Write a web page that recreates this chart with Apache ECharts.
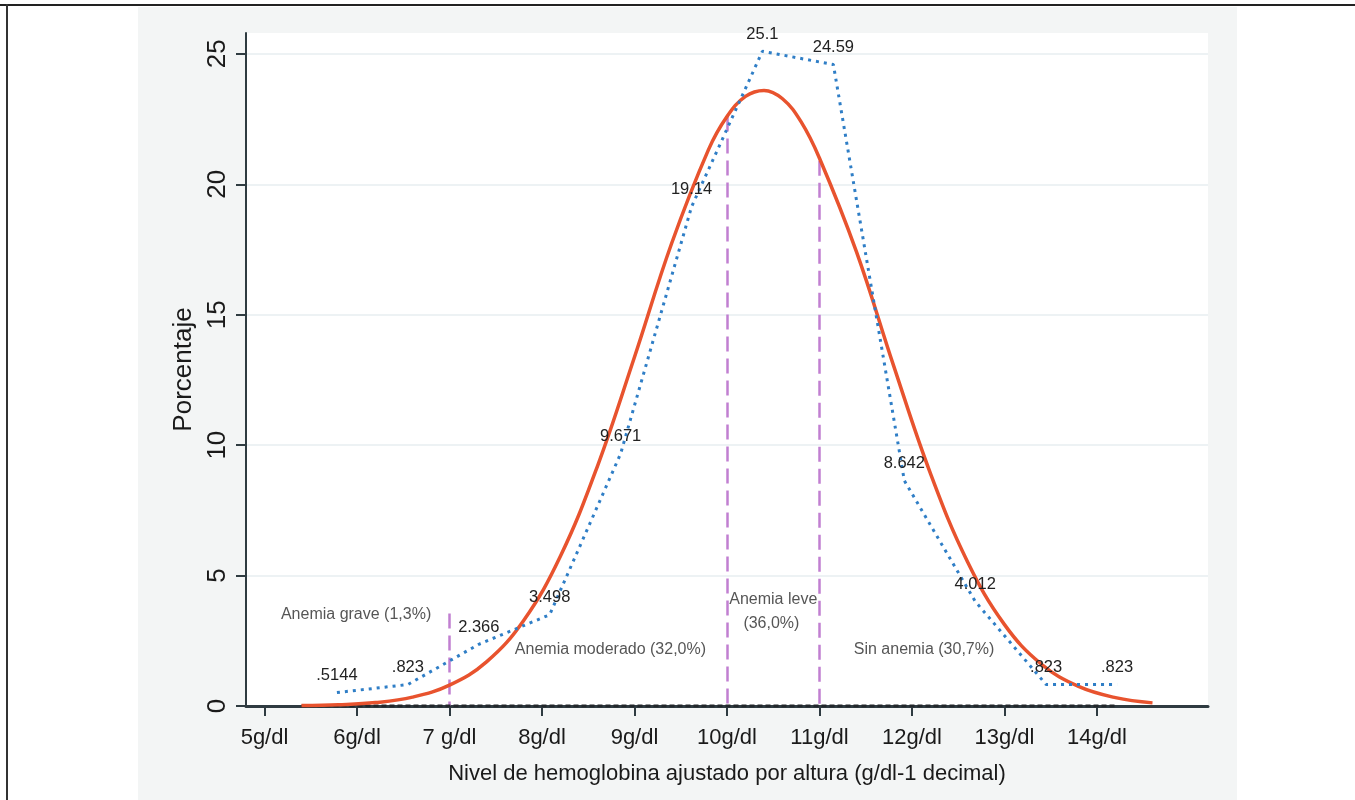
<!DOCTYPE html>
<html>
<head>
<meta charset="utf-8">
<script src="https://cdn.jsdelivr.net/npm/echarts@6/dist/echarts.min.js"></script>
<style>
  html, body { margin: 0; padding: 0; background: #ffffff; }
  #wrap { position: relative; width: 1355px; height: 800px; overflow: hidden; }
  #panel { position: absolute; left: 138px; top: 7px; width: 1099px; height: 793px; background: #f3f5f5; }
  #topline { position: absolute; left: 0; top: 4px; width: 1355px; height: 2px; background: #222; }
  #leftline { position: absolute; left: 6px; top: 4px; width: 2px; height: 796px; background: #333; }
  #chart { position: absolute; left: 0; top: 0; width: 1355px; height: 800px; }
</style>
</head>
<body>
<div id="wrap">
  <div id="panel"></div>
  <div id="topline"></div>
  <div id="leftline"></div>
  <div id="chart"></div>
</div>
<script>
// ---- data ----
// frequency polygon (bin midpoints, percent)
const binMid = [5.783, 6.55, 7.317, 8.083, 8.85, 9.617, 10.383, 11.15, 11.917, 12.683, 13.45, 14.217];
const pct = [0.5144, 0.823, 2.366, 3.498, 9.671, 19.14, 25.1, 24.59, 8.642, 4.012, 0.823, 0.823];

// fitted normal curve
const curveX = [5.4, 5.8, 6.2, 6.6, 7.0, 7.4, 7.8, 8.2, 8.6, 9.0, 9.4, 9.8, 10.0, 10.2, 10.4, 10.6, 10.8, 11.0, 11.4, 11.8, 12.2, 12.6, 13.0, 13.4, 13.8, 14.2, 14.6];
const curveY = [0.02, 0.05, 0.13, 0.34, 0.8, 1.69, 3.27, 5.75, 9.2, 13.38, 17.72, 21.33, 22.6, 23.37, 23.6, 23.28, 22.4, 21.0, 17.41, 13.06, 8.91, 5.53, 3.12, 1.6, 0.75, 0.32, 0.12];

// cut-off lines (g/dl) and their heights
const cutX = [7, 10, 11];
const cutTop = [3.55, 22.6, 20.9];

// text annotations
const noteText = ['Anemia grave (1,3%)', 'Anemia moderado (32,0%)', 'Anemia leve', '(36,0%)', 'Sin anemia (30,7%)'];
const noteX = [5.99, 8.74, 10.50, 10.48, 12.13];
const noteY = [3.49, 2.15, 4.09, 3.14, 2.15];

// axis ticks
const xTicks = [5, 6, 7, 8, 9, 10, 11, 12, 13, 14];
const xTickLabels = ['5g/dl', '6g/dl', '7 g/dl', '8g/dl', '9g/dl', '10g/dl', '11g/dl', '12g/dl', '13g/dl', '14g/dl'];
const yTicks = [0, 5, 10, 15, 20, 25];

// baseline drawn at zero by the original
const baseX = [5.4, 14.217];

const FONT = '"Liberation Sans", Arial, Helvetica, sans-serif';
const AXIS_COLOR = '#2f3b41';

const chart = echarts.init(document.getElementById('chart'), null, { renderer: 'canvas' });

const fmtVal = v => {
  let s = String(v);
  if (s.startsWith('0.')) s = s.slice(1);
  return s;
};

const option = {
  backgroundColor: 'transparent',
  animation: false,
  grid: {
    left: 246, right: 147, top: 33, bottom: 94,
    show: true, backgroundColor: '#ffffff', borderWidth: 0
  },
  xAxis: {
    type: 'value',
    min: 4.8, max: 15.2,
    name: 'Nivel de hemoglobina ajustado por altura (g/dl-1 decimal)',
    nameLocation: 'middle',
    nameGap: 57,
    nameTextStyle: { fontFamily: FONT, fontSize: 22, color: '#1a1a1a' },
    axisLine: { show: true, onZero: false, lineStyle: { color: AXIS_COLOR, width: 3 } },
    axisTick: { show: true, length: 10, customValues: xTicks, lineStyle: { color: AXIS_COLOR, width: 2 } },
    axisLabel: {
      customValues: xTicks,
      formatter: v => { const i = xTicks.indexOf(v); return i >= 0 ? xTickLabels[i] : ''; },
      fontFamily: FONT, fontSize: 22, color: '#1a1a1a', margin: 21
    },
    splitLine: { show: false }
  },
  yAxis: {
    type: 'value',
    min: 0, max: 25.8,
    name: 'Porcentaje',
    nameLocation: 'middle',
    nameGap: 42,
    nameTextStyle: { fontFamily: FONT, fontSize: 26, color: '#1a1a1a' },
    axisLine: { show: true, onZero: false, lineStyle: { color: AXIS_COLOR, width: 2 } },
    axisTick: { show: true, length: 10, customValues: yTicks, lineStyle: { color: AXIS_COLOR, width: 2 } },
    axisLabel: {
      customValues: yTicks,
      rotate: 90,
      fontFamily: FONT, fontSize: 26, color: '#1a1a1a', margin: 15
    },
    splitLine: { show: true, lineStyle: { color: '#edf2f4', width: 2 } }
  },
  series: [
    {
      name: 'cortes',
      type: 'lines',
      coordinateSystem: 'cartesian2d',
      silent: true,
      z: 2,
      lineStyle: { color: '#c17fd1', width: 2.5, type: [15, 7], opacity: 1 },
      data: cutX.map((x, i) => ({ coords: [[x, cutTop[i]], [x, 0]] }))
    },
    {
      name: 'base',
      type: 'line',
      silent: true,
      z: 3,
      symbol: 'none',
      lineStyle: { color: '#22272b', width: 3, type: [5, 3] },
      data: baseX.map(x => [x, 0])
    },
    {
      name: 'normal',
      type: 'line',
      smooth: 0.4,
      symbol: 'none',
      z: 4,
      lineStyle: { color: '#e8532e', width: 3.5 },
      data: curveX.map((x, i) => [x, curveY[i]])
    },
    {
      name: 'porcentaje',
      type: 'line',
      symbol: 'circle',
      symbolSize: 1,
      showSymbol: true,
      showAllSymbol: true,
      z: 5,
      lineStyle: { color: '#2f7ec6', width: 3, type: [3, 5] },
      itemStyle: { color: 'rgba(0,0,0,0)' },
      label: {
        show: true, position: 'top', distance: 8,
        fontFamily: FONT, fontSize: 16.5, color: '#222',
        formatter: p => fmtVal(p.value[1])
      },
      labelLayout: { hideOverlap: false },
      data: binMid.map((x, i) => [x, pct[i]])
    },
    {
      name: 'notas',
      type: 'scatter',
      symbolSize: 1,
      z: 6,
      itemStyle: { color: 'rgba(0,0,0,0)' },
      label: {
        show: true, position: 'inside',
        fontFamily: FONT, fontSize: 16, color: '#2b2b2b',
        formatter: p => p.name
      },
      data: noteText.map((t, i) => ({ name: t, value: [noteX[i], noteY[i]] }))
    }
  ]
};

chart.setOption(option);
</script>
</body>
</html>
